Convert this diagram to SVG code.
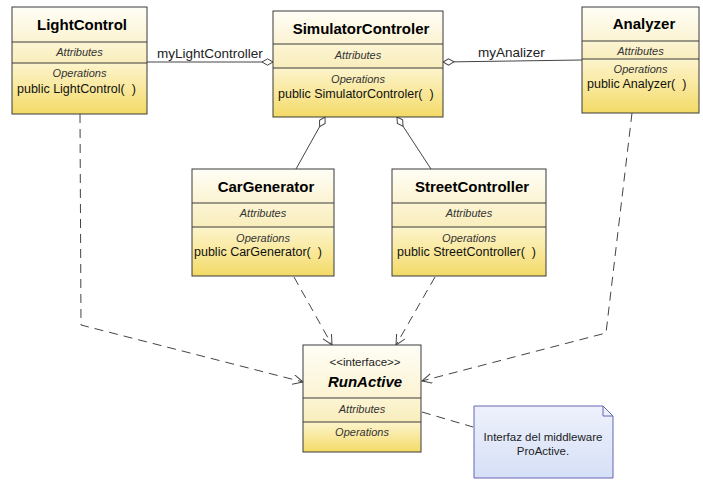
<svg xmlns="http://www.w3.org/2000/svg" width="703" height="487" viewBox="0 0 703 487">
<style>
  .box{stroke:#3a3a3a;stroke-width:1}
  .hdr{fill:url(#gHdr)}
  .attr{fill:url(#gAttr)}
  .ops{fill:url(#gOps)}
  .sep{stroke:#3a3a3a;stroke-width:1}
  text{font-family:"Liberation Sans",Arial,sans-serif}
  .title{font-size:15px;font-weight:bold;fill:#000;text-anchor:middle}
  .comp{font-size:11px;font-style:italic;fill:#333;text-anchor:middle}
  .op{font-size:12.5px;fill:#111}
  .lbl{font-size:13.5px;fill:#222}
  .solid{stroke:#444;stroke-width:1;fill:none}
  .dash{stroke:#444;stroke-width:1;fill:none;stroke-dasharray:9,6}
</style>
<defs>
  <linearGradient id="gHdr" x1="0" y1="0" x2="0" y2="1">
    <stop offset="0" stop-color="#fffef6"/>
    <stop offset="1" stop-color="#fbf3d2"/>
  </linearGradient>
  <linearGradient id="gAttr" x1="0" y1="0" x2="0" y2="1">
    <stop offset="0" stop-color="#fcf5d4"/>
    <stop offset="1" stop-color="#f9edbc"/>
  </linearGradient>
  <linearGradient id="gOps" x1="0" y1="0" x2="0" y2="1">
    <stop offset="0" stop-color="#fcf4cc"/>
    <stop offset="0.5" stop-color="#f9e89c"/>
    <stop offset="1" stop-color="#f3da66"/>
  </linearGradient>
  <linearGradient id="gNote" x1="0" y1="0" x2="0" y2="1">
    <stop offset="0" stop-color="#eef1fc"/>
    <stop offset="1" stop-color="#d6e0f6"/>
  </linearGradient>
  <marker id="diamond" markerWidth="14" markerHeight="8" refX="0" refY="4" orient="auto" markerUnits="userSpaceOnUse">
    <path d="M0,4 L5.5,0.8 L11,4 L5.5,7.2 Z" fill="#fff" stroke="#444" stroke-width="1" stroke-dasharray="none"/>
  </marker>
  <marker id="open" markerWidth="12" markerHeight="12" refX="10" refY="5" orient="auto" markerUnits="userSpaceOnUse">
    <path d="M0,0 L10,5 L0,10" fill="none" stroke="#444" stroke-width="1" stroke-dasharray="none"/>
  </marker>
</defs>
<rect width="703" height="487" fill="#fff"/>

<g id="connectors">
  <path class="solid" d="M273,62 L147,62" marker-start="url(#diamond)"/>
  <text class="lbl" x="157" y="58">myLightController</text>
  <path class="solid" d="M443,62 L582,60" marker-start="url(#diamond)"/>
  <text class="lbl" x="478" y="57">myAnalizer</text>
  <path class="solid" d="M325,117 L296,169" marker-start="url(#diamond)"/>
  <path class="solid" d="M397,117 L431,169" marker-start="url(#diamond)"/>
  <path class="dash" d="M80,114 L81,325 L303,382" marker-end="url(#open)"/>
  <path class="dash" d="M632,113 L606,333 L422,381" marker-end="url(#open)"/>
  <path class="dash" d="M294,277 L332,345" marker-end="url(#open)"/>
  <path class="dash" d="M435,277 L396,345" marker-end="url(#open)"/>
  <path class="dash" d="M422,412 L473,427"/>
</g>

<g id="LightControl">
  <rect class="hdr" x="12" y="7" width="135" height="35"/>
  <rect class="attr" x="12" y="42" width="135" height="21"/>
  <rect class="ops" x="12" y="63" width="135" height="51"/>
  <rect class="box" x="12" y="7" width="135" height="107" fill="none"/>
  <line class="sep" x1="12" y1="42" x2="147" y2="42"/>
  <line class="sep" x1="12" y1="63" x2="147" y2="63"/>
  <text class="title" x="82" y="30">LightControl</text>
  <text class="comp" x="79.5" y="56">Attributes</text>
  <text class="comp" x="79.5" y="77">Operations</text>
  <text class="op" x="17" y="93">public LightControl( &#160;)</text>
</g>

<g id="SimulatorControler">
  <rect class="hdr" x="273" y="11" width="170" height="33"/>
  <rect class="attr" x="273" y="44" width="170" height="24"/>
  <rect class="ops" x="273" y="68" width="170" height="49"/>
  <rect class="box" x="273" y="11" width="170" height="106" fill="none"/>
  <line class="sep" x1="273" y1="44" x2="443" y2="44"/>
  <line class="sep" x1="273" y1="68" x2="443" y2="68"/>
  <text class="title" x="361" y="34">SimulatorControler</text>
  <text class="comp" x="358" y="59">Attributes</text>
  <text class="comp" x="358" y="83">Operations</text>
  <text class="op" x="278" y="98">public SimulatorControler( &#160;)</text>
</g>

<g id="Analyzer">
  <rect class="hdr" x="582" y="7" width="117" height="34"/>
  <rect class="attr" x="582" y="41" width="117" height="18"/>
  <rect class="ops" x="582" y="59" width="117" height="54"/>
  <rect class="box" x="582" y="7" width="117" height="106" fill="none"/>
  <line class="sep" x1="582" y1="41" x2="699" y2="41"/>
  <line class="sep" x1="582" y1="59" x2="699" y2="59"/>
  <text class="title" x="644" y="29">Analyzer</text>
  <text class="comp" x="640.5" y="55">Attributes</text>
  <text class="comp" x="640.5" y="73">Operations</text>
  <text class="op" x="587" y="88">public Analyzer( &#160;)</text>
</g>

<g id="CarGenerator">
  <rect class="hdr" x="192" y="169" width="142" height="34"/>
  <rect class="attr" x="192" y="203" width="142" height="24"/>
  <rect class="ops" x="192" y="227" width="142" height="49"/>
  <rect class="box" x="192" y="169" width="142" height="107" fill="none"/>
  <line class="sep" x1="192" y1="203" x2="334" y2="203"/>
  <line class="sep" x1="192" y1="227" x2="334" y2="227"/>
  <text class="title" x="266" y="192">CarGenerator</text>
  <text class="comp" x="263" y="217">Attributes</text>
  <text class="comp" x="263" y="242">Operations</text>
  <text class="op" x="194" y="256">public CarGenerator( &#160;)</text>
</g>

<g id="StreetController">
  <rect class="hdr" x="392" y="169" width="154" height="34"/>
  <rect class="attr" x="392" y="203" width="154" height="24"/>
  <rect class="ops" x="392" y="227" width="154" height="49"/>
  <rect class="box" x="392" y="169" width="154" height="107" fill="none"/>
  <line class="sep" x1="392" y1="203" x2="546" y2="203"/>
  <line class="sep" x1="392" y1="227" x2="546" y2="227"/>
  <text class="title" x="472" y="192">StreetController</text>
  <text class="comp" x="469" y="217">Attributes</text>
  <text class="comp" x="469" y="242">Operations</text>
  <text class="op" x="397" y="256">public StreetController( &#160;)</text>
</g>

<g id="RunActive">
  <rect class="hdr" x="303" y="345" width="118" height="53"/>
  <rect class="attr" x="303" y="398" width="118" height="24"/>
  <rect class="ops" x="303" y="422" width="118" height="30"/>
  <rect class="box" x="303" y="345" width="118" height="107" fill="none"/>
  <line class="sep" x1="303" y1="398" x2="421" y2="398"/>
  <line class="sep" x1="303" y1="422" x2="421" y2="422"/>
  <text x="365" y="366" text-anchor="middle" font-size="11.5" fill="#222">&lt;&lt;interface&gt;&gt;</text>
  <text x="365" y="387" text-anchor="middle" font-size="15" font-weight="bold" font-style="italic" fill="#000">RunActive</text>
  <text class="comp" x="362" y="413">Attributes</text>
  <text class="comp" x="362" y="436">Operations</text>
</g>

<g id="note">
  <path d="M474,406 L603,406 L613,416 L613,478 L474,478 Z" fill="url(#gNote)" stroke="#6464b4" stroke-width="1"/>
  <path d="M603,406 L603,416 L613,416" fill="none" stroke="#6464b4" stroke-width="1"/>
  <text x="543" y="441" text-anchor="middle" font-size="11.5" fill="#222">Interfaz del middleware</text>
  <text x="543" y="455" text-anchor="middle" font-size="11.5" fill="#222">ProActive.</text>
</g>
</svg>
